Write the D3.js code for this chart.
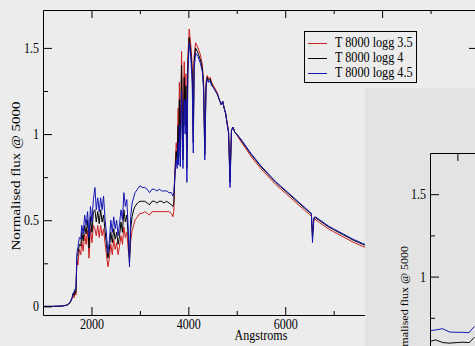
<!DOCTYPE html>
<html><head><meta charset="utf-8">
<script src="https://cdn.jsdelivr.net/npm/d3@7"></script>
<style>
html,body{margin:0;padding:0;background:#ececec;overflow:hidden}
svg{display:block}
text{font-family:"Liberation Serif","Times New Roman",serif;fill:#000}
</style></head><body>
<svg id="c" width="475" height="346"></svg>
<script>
// ---------- data ----------
const wavelengths = [1000,1200,1400,1500,1560,1600,1620,1640,1660,1680,1700,1720,1750,1780,1800,1830,1860,1890,1920,1950,1980,2010,2040,2072,2100,2130,2160,2190,2220,2250,2280,2310,2340,2370,2400,2430,2460,2490,2520,2550,2580,2610,2640,2670,2700,2730,2760,2785,2810,2840,2870,2900,2950,3000,3050,3100,3150,3200,3250,3300,3350,3400,3450,3500,3550,3600,3650,3680,3700,3725,3750,3770,3790,3800,3815,3835,3860,3889,3915,3935,3950,3970,3990,4018,4050,4080,4102,4120,4150,4200,4250,4290,4315,4340,4365,4390,4420,4450,4480,4520,4560,4600,4640,4680,4710,4740,4770,4800,4830,4861,4890,4920,4960,5000,5100,5200,5300,5400,5500,5600,5700,5800,5900,6000,6100,6200,6300,6400,6500,6540,6563,6590,6620,6700,6800,6900,7000,7200,7400,7600,7800];
const fluxLogg35 = [0,0,0.002,0.008,0.02,0.045,0.07,0.05,0.085,0.065,0.27,0.24,0.33,0.3,0.38,0.32,0.42,0.36,0.44,0.28,0.45,0.37,0.47,0.45,0.41,0.47,0.4,0.47,0.41,0.45,0.37,0.3,0.23,0.28,0.36,0.3,0.39,0.33,0.37,0.3,0.35,0.41,0.36,0.46,0.4,0.43,0.33,0.28,0.38,0.44,0.47,0.5,0.52,0.54,0.54,0.55,0.54,0.53,0.55,0.55,0.55,0.55,0.55,0.55,0.55,0.55,0.54,0.52,0.55,0.8,0.95,0.88,1.15,0.92,1.3,0.95,1.48,0.9,1.42,1.1,1.35,0.9,1.45,1.61,1.52,1.4,1.0,1.45,1.53,1.5,1.46,1.4,1.3,0.93,1.3,1.34,1.32,1.33,1.3,1.28,1.26,1.24,1.2,1.17,1.19,1.15,1.12,1.07,1.02,0.75,1.02,1.04,1.01,0.995,0.95,0.91,0.868,0.833,0.798,0.768,0.738,0.708,0.683,0.658,0.633,0.608,0.583,0.558,0.533,0.523,0.42,0.5,0.505,0.488,0.468,0.448,0.433,0.403,0.373,0.348,0.328];
const fluxLogg4 = [0,0,0.002,0.008,0.022,0.05,0.075,0.065,0.09,0.08,0.29,0.3,0.36,0.35,0.43,0.38,0.47,0.42,0.5,0.34,0.52,0.43,0.55,0.56,0.49,0.55,0.48,0.56,0.49,0.53,0.44,0.36,0.28,0.33,0.43,0.37,0.45,0.39,0.43,0.36,0.41,0.49,0.43,0.56,0.49,0.53,0.4,0.25,0.45,0.52,0.56,0.58,0.6,0.61,0.61,0.61,0.6,0.59,0.61,0.61,0.6,0.61,0.61,0.6,0.61,0.6,0.59,0.58,0.6,0.78,0.9,0.84,1.05,0.86,1.2,0.88,1.4,0.85,1.33,1.05,1.28,0.8,1.4,1.56,1.48,1.35,0.95,1.42,1.5,1.47,1.43,1.38,1.28,0.88,1.28,1.33,1.31,1.32,1.29,1.27,1.25,1.23,1.2,1.17,1.19,1.15,1.12,1.06,1.01,0.72,1.02,1.04,1.01,1.0,0.96,0.92,0.88,0.845,0.81,0.78,0.75,0.72,0.695,0.67,0.645,0.62,0.595,0.57,0.545,0.535,0.4,0.51,0.515,0.5,0.48,0.46,0.445,0.415,0.385,0.36,0.34];
const fluxLogg45 = [0,0,0.002,0.008,0.025,0.05,0.065,0.085,0.1,0.1,0.31,0.34,0.4,0.39,0.47,0.42,0.53,0.47,0.55,0.4,0.58,0.49,0.62,0.69,0.56,0.63,0.55,0.63,0.56,0.64,0.51,0.42,0.31,0.38,0.5,0.43,0.52,0.45,0.5,0.41,0.48,0.56,0.5,0.66,0.58,0.62,0.45,0.23,0.52,0.6,0.63,0.66,0.68,0.7,0.69,0.69,0.68,0.66,0.68,0.68,0.67,0.68,0.67,0.67,0.67,0.66,0.66,0.64,0.66,0.77,0.85,0.8,0.95,0.82,1.05,0.81,1.25,0.8,1.2,1.0,1.2,0.72,1.35,1.53,1.45,1.3,0.89,1.38,1.47,1.45,1.41,1.36,1.26,0.85,1.27,1.32,1.3,1.31,1.28,1.27,1.25,1.23,1.2,1.17,1.19,1.15,1.12,1.06,1.01,0.69,1.02,1.04,1.01,1.0,0.965,0.925,0.885,0.85,0.815,0.785,0.755,0.725,0.7,0.675,0.65,0.625,0.6,0.575,0.55,0.54,0.37,0.515,0.52,0.505,0.485,0.465,0.45,0.42,0.39,0.365,0.345];
const seriesNames = ["T 8000 logg 3.5","T 8000 logg 4","T 8000 logg 4.5"];
const seriesColors = ["#cc1f1f","#000000","#1414b4"];
const xMajorTicks = [2000,4000,6000,8000];
const xMinorTicks = [3000,5000,7000,9000];
const yMajorTicks = [0,0.5,1,1.5];
const yMinorTicks = [0.25,0.75,1.25];
const yLabel = "Normalised flux @ 5000";
const xLabel = "Angstroms";
// second (overlapping) window
const insetWavelengths = [3000,3100,3232,3354,3500,3600,3690,3719,3760,3810];
const insetFluxLogg4 = [0.606,0.616,0.6,0.596,0.6,0.602,0.6,0.6,0.615,0.632];
const insetFluxLogg45 = [0.672,0.676,0.684,0.664,0.662,0.662,0.66,0.662,0.68,0.697];
const insetXTicks = [3500];
const insetYMajor = [1,1.5];
const insetYMinor = [0.75,1.25];

// ---------- drawing ----------
const svg = d3.select("#c");
const SX = 0.86;
function styleAxis(g){
  g.attr("font-family",null).attr("font-size",null);
  g.selectAll("path.domain").attr("stroke","#000");
  g.selectAll("line").attr("stroke","#000");
  g.selectAll("text").attr("font-size",14);
}
function squeezeLeft(g){
  g.selectAll("text").each(function(){
    const t=d3.select(this); const tx=+t.attr("x")||0;
    t.attr("x",0).attr("transform",`translate(${tx},0) scale(${SX},1)`);
  });
}
function squeezeBottom(g){ g.selectAll("text").attr("transform",`scale(${SX},1)`); }

const x = d3.scaleLinear().domain([1000,10000]).range([43,479]);
const y = d3.scaleLinear().domain([-0.05,1.72]).range([315,10]);

const main = svg.append("g");
main.append("clipPath").attr("id","clipMain").append("rect").attr("x",43).attr("y",10).attr("width",436).attr("height",305);

const line = d3.line().x(d=>x(d[0])).y(d=>y(d[1]));
const seriesData = [fluxLogg35, fluxLogg4, fluxLogg45];
seriesData.forEach((vals,i)=>{
  main.append("path").attr("clip-path","url(#clipMain)")
    .datum(wavelengths.map((w,j)=>[w,vals[j]]))
    .attr("fill","none").attr("stroke",seriesColors[i]).attr("stroke-width",1)
    .attr("stroke-linejoin","round").attr("d",line);
});

// axes
const gB = main.append("g").attr("transform","translate(0,315)")
  .call(d3.axisBottom(x).tickValues(xMajorTicks).tickSizeInner(-8).tickSizeOuter(0).tickPadding(4).tickFormat(d3.format("d")));
styleAxis(gB); squeezeBottom(gB);
const gBm = main.append("g").attr("transform","translate(0,315)")
  .call(d3.axisBottom(x).tickValues(xMinorTicks).tickSize(-4).tickFormat(""));
styleAxis(gBm); gBm.select(".domain").remove();
const gT = main.append("g").attr("transform","translate(0,10)")
  .call(d3.axisTop(x).tickValues(xMajorTicks).tickSizeInner(-8).tickSizeOuter(0).tickFormat(""));
styleAxis(gT);
const gTm = main.append("g").attr("transform","translate(0,10)")
  .call(d3.axisTop(x).tickValues(xMinorTicks).tickSize(-4).tickFormat(""));
styleAxis(gTm); gTm.select(".domain").remove();
const gL = main.append("g").attr("transform","translate(43,0)")
  .call(d3.axisLeft(y).tickValues(yMajorTicks).tickSizeInner(-9).tickSizeOuter(0).tickPadding(4).tickFormat(d3.format("")));
styleAxis(gL); squeezeLeft(gL);
const gLm = main.append("g").attr("transform","translate(43,0)")
  .call(d3.axisLeft(y).tickValues(yMinorTicks).tickSize(-5).tickFormat(""));
styleAxis(gLm); gLm.select(".domain").remove();
const gR = main.append("g").attr("transform","translate(478,0)")
  .call(d3.axisRight(y).tickValues(yMajorTicks).tickSizeInner(-9).tickSizeOuter(0).tickFormat(""));
styleAxis(gR);
const gRm = main.append("g").attr("transform","translate(478,0)")
  .call(d3.axisRight(y).tickValues(yMinorTicks).tickSize(-5).tickFormat(""));
styleAxis(gRm); gRm.select(".domain").remove();

// axis titles
main.append("text").attr("transform",`translate(20,176) rotate(-90) scale(1,${SX})`)
  .attr("text-anchor","middle").attr("font-size",15).text(yLabel);
main.append("text").attr("transform",`translate(261,340) scale(${SX},1)`)
  .attr("text-anchor","middle").attr("font-size",14).text(xLabel);

// legend
const leg = main.append("g");
leg.append("rect").attr("x",304.5).attr("y",31.5).attr("width",112).attr("height",51)
  .attr("fill","#ececec").attr("stroke","#000").attr("stroke-width",1);
seriesNames.forEach((nm,i)=>{
  const cy = 42.5 + i*15.3;
  leg.append("line").attr("x1",308).attr("x2",327).attr("y1",Math.round(cy)+0.5).attr("y2",Math.round(cy)+0.5)
    .attr("stroke",seriesColors[i]).attr("stroke-width",1);
  leg.append("text").attr("transform",`translate(335,${cy+4.3}) scale(${SX+0.01},1)`)
    .attr("font-size",14).text(nm);
});

// ---------- second, overlapping window ----------
const win = svg.append("g");
win.append("rect").attr("x",365).attr("y",88).attr("width",110).attr("height",258).attr("fill","#e3e3e3");
const x2 = d3.scaleLinear().domain([3000,4000]).range([430,484.8]);
const y2 = d3.scaleLinear().domain([0,1.75]).range([441.4,153]);
win.append("clipPath").attr("id","clipWin").append("rect").attr("x",430).attr("y",153).attr("width",60).attr("height",200);
const line2 = d3.line().x(d=>x2(d[0])).y(d=>y2(d[1]));
[[insetFluxLogg4,"#000000"],[insetFluxLogg45,"#1414b4"]].forEach(([vals,col])=>{
  win.append("path").attr("clip-path","url(#clipWin)")
    .datum(insetWavelengths.map((w,j)=>[w,vals[j]]))
    .attr("fill","none").attr("stroke",col).attr("stroke-width",1).attr("d",line2);
});
const g2L = win.append("g").attr("transform","translate(430,0)")
  .call(d3.axisLeft(y2).tickValues(insetYMajor).tickSizeInner(-9).tickSizeOuter(0).tickPadding(4).tickFormat(d3.format("")));
styleAxis(g2L); squeezeLeft(g2L);
const g2Lm = win.append("g").attr("transform","translate(430,0)")
  .call(d3.axisLeft(y2).tickValues(insetYMinor).tickSize(-5).tickFormat(""));
styleAxis(g2Lm); g2Lm.select(".domain").remove();
const g2T = win.append("g").attr("transform","translate(0,153)")
  .call(d3.axisTop(x2).tickValues(insetXTicks).tickSizeInner(-8).tickSizeOuter(0).tickFormat(""));
styleAxis(g2T);
win.append("text").attr("transform",`translate(408,246) rotate(-90) scale(1,${SX})`)
  .attr("text-anchor","end").attr("font-size",12).text(yLabel);
</script>
</body></html>
